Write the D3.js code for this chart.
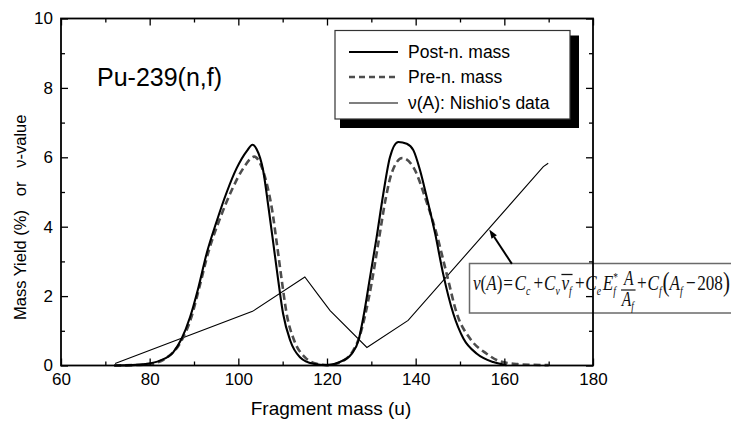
<!DOCTYPE html>
<html>
<head>
<meta charset="utf-8">
<script src="https://cdn.jsdelivr.net/npm/d3@7"></script>
<style>
  html, body { margin: 0; padding: 0; background: #fff; }
  svg { display: block; }
</style>
</head>
<body>
<svg id="chart" width="731" height="427"></svg>
<script>
// ---- data -------------------------------------------------------------
// Post-neutron-emission mass yield (%)
const postMass  = [72, 76, 79, 82.3, 85.3, 87.2, 89.1, 91.0, 92.9, 95.1, 97.4, 99.6, 101.9, 103.2, 104.1,
                   105.6, 106.8, 107.9, 109.0, 110.1, 111.7, 113.9, 116.9, 120.0, 122.9, 125.6, 127.1, 128.2,
                   129.7, 131.2, 132.7, 134.2, 136.1, 138.0, 139.5, 141.0, 142.5, 144.4, 146.2, 148.5, 150.8,
                   153.8, 157.5, 160.5];
const postYield = [0.00, 0.01, 0.04, 0.14, 0.38, 0.77, 1.39, 2.25, 3.25, 4.15, 5.00, 5.68, 6.18, 6.36, 6.24,
                   5.62, 4.56, 3.51, 2.45, 1.49, 0.72, 0.24, 0.05, 0.01, 0.10, 0.34, 0.72, 1.39,
                   2.54, 3.70, 4.95, 6.00, 6.44, 6.39, 6.20, 5.62, 4.85, 3.80, 2.64, 1.49, 0.77,
                   0.34, 0.10, 0.01];

// Pre-neutron-emission mass yield (%)
const preMass  = [72, 76, 80, 84, 87.2, 89.3, 91.2, 93.2, 95.9, 98.5, 101.1, 103.6, 105.3, 106.6, 107.6,
                  108.7, 109.8, 110.9, 112.6, 115.0, 117.7, 120.2, 123.7, 125.9, 127.3, 128.6, 130.1, 131.6,
                  133.3, 134.6, 137.0, 139.5, 142.5, 144.7, 147.0, 149.3, 152.3, 156.0, 159.0, 163.0, 166.5, 170.0];
const preYield = [0.00, 0.01, 0.04, 0.24, 0.72, 1.35, 2.25, 3.25, 4.25, 5.05, 5.68, 6.02, 5.71, 5.14, 4.50,
                  3.50, 2.45, 1.49, 0.72, 0.24, 0.05, 0.01, 0.14, 0.43, 0.82, 1.45, 2.40, 3.55,
                  4.85, 5.55, 5.98, 5.71, 4.70, 3.80, 2.64, 1.49, 0.77, 0.34, 0.12, 0.04, 0.02, 0.01];

// Prompt neutron multiplicity nu(A), Nishio's data
const nuMass  = [72.2, 103.2, 115.0, 118.4, 120.7, 129.0, 138.3, 168.8, 169.9];
const nuValue = [0.06, 1.56, 2.55, 1.97, 1.58, 0.52, 1.30, 5.73, 5.83];

// Arrow from the formula box to the nu(A) line (tail, tip)
const arrowMass  = [161.7, 156.6];
const arrowValue = [2.93, 3.92];

// Axis ticks
const xMajor = [60, 80, 100, 120, 140, 160, 180];
const xMinor = [70, 90, 110, 130, 150, 170];
const yMajor = [0, 2, 4, 6, 8, 10];
const yMinor = [1, 3, 5, 7, 9];

const legendLabels = ["Post-n. mass", "Pre-n. mass", "\u03BD(A): Nishio's data"];

// ---- layout -----------------------------------------------------------
const sansFont = 'Arial, "Liberation Sans", Helvetica, sans-serif';
const serifFont = '"Liberation Serif", "Times New Roman", Times, serif';
const plot = { left: 61, right: 593, top: 18.5, bottom: 365.5 };

const svg = d3.select("#chart");
svg.append("rect").attr("width", 731).attr("height", 427).attr("fill", "#fff");

const x = d3.scaleLinear().domain([60, 180]).range([plot.left, plot.right]);
const y = d3.scaleLinear().domain([0, 10]).range([plot.bottom, plot.top]);

// ---- formula box (drawn under the frame) ------------------------------
const boxTop = 263.5, boxBottom = 313;
svg.append("rect")
  .attr("x", 469.5).attr("y", boxTop)
  .attr("width", 320).attr("height", boxBottom - boxTop)
  .attr("fill", "#fff").attr("stroke", "#6a6a6a").attr("stroke-width", 1.5);

const eqG = svg.append("g");
let cx = 0;
function put(str, opt = {}) {
  const t = eqG.append("text")
    .attr("x", cx).attr("y", opt.dy || 0)
    .attr("font-family", serifFont)
    .attr("font-size", opt.size || 22)
    .attr("font-style", opt.italic ? "italic" : "normal")
    .attr("fill", "#111")
    .text(str);
  const w = t.node().getComputedTextLength();
  const x0 = cx;
  if (!opt.stay) cx += w;
  return { x0, w, t };
}
const gap = g => { cx += g; };
const sub = { size: 12.5, dy: 5, italic: true };

put("\u03BD", { italic: true }); put("("); put("A", { italic: true }); put(")");
gap(1); put("="); gap(2);
put("C", { italic: true }); put("c", sub); gap(4);
put("+"); gap(1);
put("C", { italic: true }); put("\u03BD", sub); gap(2);
const ovStart = cx;
put("\u03BD", { italic: true }); put("f", sub);
const ovEnd = cx;
eqG.append("line").attr("x1", ovStart).attr("x2", ovEnd + 1)
  .attr("y1", -15.5).attr("y2", -15.5).attr("stroke", "#111").attr("stroke-width", 1.3);
gap(4);
put("+"); gap(1);
put("C", { italic: true }); put("e", sub); gap(2);
put("E", { italic: true });
const fSub = put("f", Object.assign({ stay: true }, sub));
const star = put("*", { size: 12, dy: -9, stay: true });
cx += Math.max(fSub.w, star.w);
gap(5);
// fraction A / A_f
const fracStart = cx;
const num = put("A", { italic: true, size: 20, dy: -5, stay: true });
const denA = put("A", { italic: true, size: 20, dy: 16 });
put("f", { size: 12, dy: 20, italic: true });
const denW = cx - fracStart;
const fracW = Math.max(num.w, denW) + 2;
num.t.attr("x", fracStart + (fracW - num.w) / 2);
eqG.append("line").attr("x1", fracStart - 1).attr("x2", fracStart + fracW)
  .attr("y1", 0).attr("y2", 0).attr("stroke", "#111").attr("stroke-width", 1.2);
cx = fracStart + fracW + 2;
put("+"); gap(1);
put("C", { italic: true }); put("f", sub); gap(1);
put("(", { size: 27, dy: 1 }); put("A", { italic: true }); put("f", sub); gap(4);
put("\u2212"); gap(2);
put("208");
put(")", { size: 27, dy: 1 });
const eqEnd = cx;

// the whole expression is condensed horizontally to fit inside the page
const eqLeft = 473, eqRight = 730;
const sx = (eqRight - eqLeft) / eqEnd;
eqG.attr("transform", `translate(${eqLeft},290) scale(${sx},1)`);

// ---- curves -----------------------------------------------------------
const idx = arr => d3.range(arr.length);

const postLine = d3.line()
  .x(i => x(postMass[i])).y(i => y(postYield[i]))
  .curve(d3.curveMonotoneX);
const preLine = d3.line()
  .x(i => x(preMass[i])).y(i => y(preYield[i]))
  .curve(d3.curveMonotoneX);
const nuLine = d3.line()
  .x(i => x(nuMass[i])).y(i => y(nuValue[i]));

svg.append("path").attr("d", nuLine(idx(nuMass)))
  .attr("fill", "none").attr("stroke", "#000").attr("stroke-width", 1.1)
  .attr("stroke-linejoin", "miter");

svg.append("path").attr("d", preLine(idx(preMass)))
  .attr("fill", "none").attr("stroke", "#4d4d4d").attr("stroke-width", 2.6)
  .attr("stroke-dasharray", "7,4");

svg.append("path").attr("d", postLine(idx(postMass)))
  .attr("fill", "none").attr("stroke", "#000").attr("stroke-width", 2.1)
  .attr("stroke-linejoin", "round");

// ---- arrow ------------------------------------------------------------
const ax0 = x(arrowMass[0]), ay0 = y(arrowValue[0]);
const ax1 = x(arrowMass[1]), ay1 = y(arrowValue[1]);
const ang = Math.atan2(ay1 - ay0, ax1 - ax0);
const headL = 9, headW = 3.2;
const bx = ax1 - headL * Math.cos(ang), by = ay1 - headL * Math.sin(ang);
svg.append("line")
  .attr("x1", ax0).attr("y1", ay0).attr("x2", bx).attr("y2", by)
  .attr("stroke", "#000").attr("stroke-width", 2);
svg.append("path")
  .attr("d", `M${ax1},${ay1}L${bx - headW * Math.sin(ang)},${by + headW * Math.cos(ang)}L${bx + headW * Math.sin(ang)},${by - headW * Math.cos(ang)}Z`)
  .attr("fill", "#000");

// ---- axes -------------------------------------------------------------
function styleAxis(g) {
  g.select(".domain").remove();
  g.selectAll("line").attr("stroke", "#000").attr("stroke-width", 1.3);
  g.selectAll("text").attr("font-family", sansFont).attr("font-size", 17).attr("fill", "#000");
}

svg.append("g").attr("transform", `translate(0,${plot.bottom})`)
  .call(d3.axisBottom(x).tickValues(xMajor).tickSizeInner(-7).tickSizeOuter(0).tickPadding(7).tickFormat(d3.format("d")))
  .call(styleAxis);
svg.append("g").attr("transform", `translate(0,${plot.bottom})`)
  .call(d3.axisBottom(x).tickValues(xMinor).tickSizeInner(-4).tickSizeOuter(0).tickFormat(""))
  .call(styleAxis);
svg.append("g").attr("transform", `translate(0,${plot.top})`)
  .call(d3.axisTop(x).tickValues(xMajor).tickSizeInner(-7).tickSizeOuter(0).tickFormat(""))
  .call(styleAxis);
svg.append("g").attr("transform", `translate(0,${plot.top})`)
  .call(d3.axisTop(x).tickValues(xMinor).tickSizeInner(-4).tickSizeOuter(0).tickFormat(""))
  .call(styleAxis);

svg.append("g").attr("transform", `translate(${plot.left},0)`)
  .call(d3.axisLeft(y).tickValues(yMajor).tickSizeInner(-7).tickSizeOuter(0).tickPadding(8).tickFormat(d3.format("d")))
  .call(styleAxis);
svg.append("g").attr("transform", `translate(${plot.left},0)`)
  .call(d3.axisLeft(y).tickValues(yMinor).tickSizeInner(-4).tickSizeOuter(0).tickFormat(""))
  .call(styleAxis);
svg.append("g").attr("transform", `translate(${plot.right},0)`)
  .call(d3.axisRight(y).tickValues(yMajor).tickSizeInner(-7).tickSizeOuter(0).tickFormat(""))
  .call(styleAxis);
svg.append("g").attr("transform", `translate(${plot.right},0)`)
  .call(d3.axisRight(y).tickValues(yMinor).tickSizeInner(-4).tickSizeOuter(0).tickFormat(""))
  .call(styleAxis);

// plot frame
svg.append("rect")
  .attr("x", plot.left).attr("y", plot.top)
  .attr("width", plot.right - plot.left).attr("height", plot.bottom - plot.top)
  .attr("fill", "none").attr("stroke", "#000").attr("stroke-width", 1.8);

// ---- axis titles & annotation ----------------------------------------
svg.append("text")
  .attr("x", 331).attr("y", 415)
  .attr("text-anchor", "middle")
  .attr("font-family", sansFont).attr("font-size", 19)
  .text("Fragment mass (u)");

svg.append("text")
  .attr("transform", "translate(25.5,320) rotate(-90)")
  .attr("font-family", sansFont).attr("font-size", 16.5)
  .style("white-space", "pre")
  .text("Mass Yield (%)   or   \u03BD-value");

svg.append("text")
  .attr("x", 97).attr("y", 86)
  .attr("font-family", sansFont).attr("font-size", 25)
  .text("Pu-239(n,f)");

// ---- legend -----------------------------------------------------------
const lg = { x: 335, y: 30.5, w: 235, h: 88.5 };
svg.append("rect")
  .attr("x", lg.x + 5).attr("y", lg.y + 5)
  .attr("width", lg.w + 4).attr("height", lg.h + 4)
  .attr("fill", "#000");
svg.append("rect")
  .attr("x", lg.x).attr("y", lg.y).attr("width", lg.w).attr("height", lg.h)
  .attr("fill", "#fff").attr("stroke", "#333").attr("stroke-width", 1.2);

const legendStyles = [
  { stroke: "#000", width: 2.1, dash: null },
  { stroke: "#4d4d4d", width: 2.6, dash: "6,4" },
  { stroke: "#000", width: 1.1, dash: null }
];
const rowY = [52, 77, 103];
legendLabels.forEach((label, i) => {
  const st = legendStyles[i];
  svg.append("line")
    .attr("x1", 349).attr("x2", 398).attr("y1", rowY[i]).attr("y2", rowY[i])
    .attr("stroke", st.stroke).attr("stroke-width", st.width)
    .attr("stroke-dasharray", st.dash);
  svg.append("text")
    .attr("x", 408).attr("y", rowY[i] + 6)
    .attr("font-family", sansFont).attr("font-size", 17.5)
    .text(label);
});
</script>
</body>
</html>
